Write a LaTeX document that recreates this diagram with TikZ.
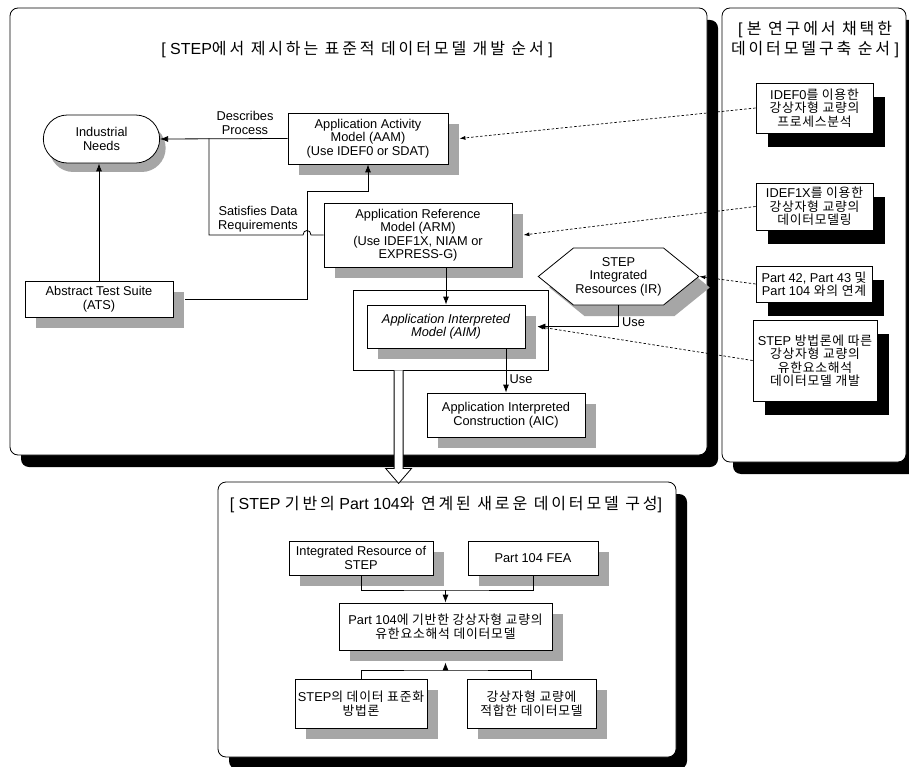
\documentclass[tikz,border=0pt]{standalone}
\usepackage{fontspec}
\setmainfont{Liberation Sans}
\newfontfamily\kor[LetterSpace=6]{Noto Sans CJK KR}
\newfontfamily\kortitle[LetterSpace=18]{Noto Sans CJK KR}
\usetikzlibrary{arrows.meta,shapes.misc,shapes.symbols,shadows,calc}

\begin{document}
\begin{tikzpicture}[x=1pt, y=-1pt, line width=0.8pt,
    every node/.style={font=\fontsize{12.8}{13.5}\selectfont},
    panel/.style={draw, fill=white, rounded corners=8pt, inner sep=0pt,
        drop shadow={shadow xshift=11pt, shadow yshift=-12pt, fill=black, opacity=1}},
    stdbox/.style={draw, fill=white, align=center, inner sep=2pt,
        drop shadow={shadow xshift=11pt, shadow yshift=-11pt, fill=black!35, opacity=1}},
    ownbox/.style={draw, fill=white, align=center, inner sep=2pt,
        drop shadow={shadow xshift=12pt, shadow yshift=-14pt, fill=black, opacity=1}},
    heading/.style={font=\fontsize{16}{20}\selectfont, align=center},
    arr/.style={-{Latex[length=8pt,width=6pt]}},
    dotline/.style={dash pattern=on 2.5pt off 2pt, line width=0.7pt, -{Latex[length=6pt,width=4pt]}}]
    \useasboundingbox (0,0) rectangle (909,767);

    % the three frames
    \node[panel, minimum width=697pt, minimum height=447pt] (stdpanel) at (358.5,231.5) {};
    \node[panel, minimum width=184pt, minimum height=454pt] (ownpanel) at (814,235) {};
    \node[panel, minimum width=458pt, minimum height=275pt] (newpanel) at (447,619.5) {};

    \node[heading] (stdtitle) at (357,50) {[ STEP{\kortitle 에서 제시하는 표준적 데이터모델 개발 순서} ]};
    \node[heading] (owntitle) at (815,40) {[ {\kortitle 본 연구에서 채택한}\\{\kortitle 데이터모델구축 순서} ]};
    \node[heading] (newtitle) at (446,505) {[ STEP {\kortitle 기반의} Part 104{\kortitle 와 연계된 새로운 데이터모델 구성}]};

    % standard procedure of STEP
    \node[rounded rectangle, draw, fill=white, align=center, minimum width=123pt, minimum height=48pt,
          drop shadow={shadow xshift=6pt, shadow yshift=-9pt, fill=black!35, opacity=1}] (needs) at (101.5,139) {Industrial\\Needs};
    \node[stdbox, minimum width=160pt, minimum height=51pt] (aam) at (368,138.5) {Application Activity\\Model (AAM)\\(Use IDEF0 or SDAT)};
    \node[stdbox, minimum width=188pt, minimum height=64pt] (arm) at (418,235) {Application Reference\\Model (ARM)\\(Use IDEF1X, NIAM or\\EXPRESS-G)};
    \node[stdbox, minimum width=148pt, minimum height=36pt] (ats) at (99,299) {Abstract Test Suite\\(ATS)};
    \node[draw, minimum width=195pt, minimum height=80pt] (aimframe) at (450.5,330) {};
    \node[stdbox, font=\fontsize{12.8}{13.5}\selectfont\itshape, minimum width=158pt, minimum height=43pt] (aim) at (446,326.5) {Application Interpreted\\Model (AIM)};
    \node[stdbox, minimum width=158pt, minimum height=44pt] (aic) at (506,415) {Application Interpreted\\Construction (AIC)};
    \node[stdbox, signal, signal to=east and west, signal pointer angle=78, minimum width=153pt, minimum height=57pt] (ir) at (618.5,276.5) {STEP\\Integrated\\Resources (IR)};

    \node[align=center] (desc) at (245,123) {Describes\\Process};
    \node[align=center] (satis) at (258,219) {Satisfies Data\\Requirements};

    % procedure of this study
    \node[ownbox, minimum width=117pt, minimum height=50pt] (idef0) at (814.5,108) {IDEF0{\kor 를 이용한}\\{\kor 강상자형 교량의}\\{\kor 프로세스분석}};
    \node[ownbox, minimum width=117pt, minimum height=47pt] (idef1x) at (814.5,206.5) {IDEF1X{\kor 를 이용한}\\{\kor 강상자형 교량의}\\{\kor 데이터모델링}};
    \node[ownbox, minimum width=116pt, minimum height=36pt] (parts) at (814,284) {Part 42, Part 43 {\kor 및}\\Part 104 {\kor 와의 연계}};
    \node[ownbox, minimum width=124pt, minimum height=81pt] (fedm) at (815,360.5) {STEP {\kor 방법론에 따른}\\{\kor 강상자형 교량의}\\{\kor 유한요소해석}\\{\kor 데이터모델 개발}};

    % new data model
    \node[stdbox, minimum width=144pt, minimum height=34pt] (irs) at (361,558) {Integrated Resource of\\STEP};
    \node[stdbox, minimum width=130pt, minimum height=34pt] (fea) at (533,558) {Part 104 FEA};
    \node[stdbox, minimum width=213pt, minimum height=47pt] (fem) at (445.5,626.5) {Part 104{\kor 에 기반한 강상자형 교량의}\\{\kor 유한요소해석 데이터모델}};
    \node[stdbox, minimum width=132pt, minimum height=49pt] (method) at (361,703.5) {STEP{\kor 의 데이터 표준화}\\{\kor 방법론}};
    \node[stdbox, minimum width=129pt, minimum height=49pt] (suited) at (531.5,703.5) {{\kor 강상자형 교량에}\\{\kor 적합한 데이터모델}};

    % connectors
    \coordinate (split) at (209,138.5);
    \coordinate (bend) at (307,191);
    \draw[arr] (aam.west) -- (needs.east);
    \draw (split) -- (split |- arm.west) -- ++(94,0) .. controls +(0,-6) and +(0,-6) .. ++(8,0) -- (arm.west);
    \draw[arr] ($(ats.east)+(12,0)$) -| (bend) -| (aam.south);
    \draw[arr] (ats.north) -- (ats.north |- needs.south);
    \draw[arr] (arm.south -| aim.north) -- (aim.north);
    \draw[arr] (aim.south -| aic.north) -- (aic.north) node[pos=0.7, right] {Use};
    \draw[arr] (ir.south) |- ($(aim.east)+(12,0)$) node[pos=0.4, right] {Use};

    \draw[dotline] (idef0.west) -- ($(aam.east)+(11,0)$);
    \draw[dotline] (idef1x.west) -- ($(arm.east)+(11,0)$);
    \draw[dotline] (parts.west) -- (ir.east);
    \draw[dotline] (fedm.west) -- ($(aim.east)+(12,0)$);

    \coordinate (upjoin) at (445.5,590);
    \coordinate (lowjoin) at (445.5,670);
    \draw (irs.south) |- (upjoin) -| (fea.south);
    \draw[arr] (upjoin) -- (fem.north);
    \draw (method.north) |- (lowjoin) -| (suited.north);
    \draw[arr] (lowjoin) -- ($(fem.south)+(0,12)$);

    % hand over to the new data model
    \coordinate (handover) at ($(aimframe.south west)+(46,0)$);
    \draw[fill=white] ($(handover)+(-4.5,0)$) -- ++(0,98) -- ++(-8.5,0) -- ($(handover)+(0,113)$)
        -- ++(13,-15) -- ++(-8.5,0) -- ($(handover)+(4.5,0)$);
\end{tikzpicture}
\end{document}
